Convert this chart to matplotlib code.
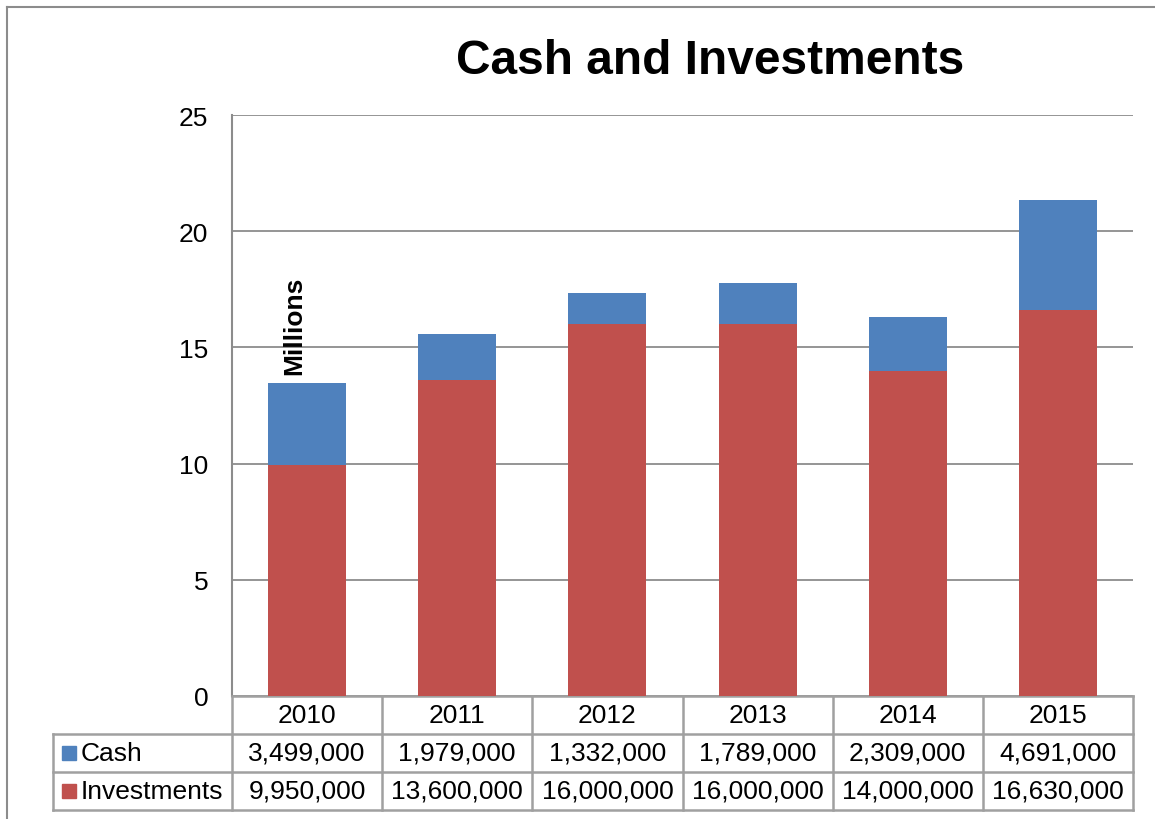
import numpy as np
import matplotlib
matplotlib.use("Agg")
from matplotlib import pyplot as plt
from matplotlib import transforms
from matplotlib.patches import Rectangle
from matplotlib.lines import Line2D

# data
years = ['2010', '2011', '2012', '2013', '2014', '2015']
cash = [3499000, 1979000, 1332000, 1789000, 2309000, 4691000]
investments = [9950000, 13600000, 16000000, 16000000, 14000000, 16630000]
series_names = ['Cash', 'Investments']
yticks = [0, 5, 10, 15, 20, 25]

blue = '#4F81BD'
red = '#C0504D'
grid_c = '#8c8c8c'
tab_c = '#a0a0a0'
fs = 19

plt.rcParams['font.family'] = ['Liberation Sans', 'DejaVu Sans']

fig = plt.figure(figsize=(11.55, 8.2), dpi=100)
ax = fig.add_axes([232/1155, 123/820, 901/1155, 581/820])

x = np.arange(len(years))
cash_m = np.array(cash) / 1e6
inv_m = np.array(investments) / 1e6
ax.bar(x, inv_m, width=0.52, color=red, zorder=3)
ax.bar(x, cash_m, bottom=inv_m, width=0.52, color=blue, zorder=3)

ax.set_xlim(-0.5, len(years) - 0.5)
ax.set_ylim(0, 25)
ax.set_yticks(yticks)
ax.set_yticklabels([str(t) for t in yticks], fontsize=fs)
ax.tick_params(axis='y', length=0, pad=17)
ax.set_xticks([])
ax.grid(axis='y', color=grid_c, linewidth=1.3, zorder=0)
for s in ['top', 'right']:
    ax.spines[s].set_visible(False)
ax.spines['left'].set_color(grid_c)
ax.spines['left'].set_linewidth(1.5)
ax.spines['bottom'].set_color(tab_c)
ax.spines['bottom'].set_linewidth(1.8)

# display units label
ax.text(-0.087, 13.85, 'Millions', rotation=90, fontsize=fs, fontweight='bold',
        ha='center', va='bottom')

# data table under the plot
tr = transforms.blended_transform_factory(ax.transData, ax.transAxes)
rh = 38 / 581
left = -0.5 - 179 / 150.17
right = len(years) - 0.5
lw = 1.8
def line(xs, ys):
    ax.add_line(Line2D(xs, ys, transform=tr, color=tab_c, lw=lw, clip_on=False))

for r in range(1, 4):
    line([left, right], [-r * rh, -r * rh])
line([left, left], [-rh, -3 * rh])
for i in range(len(years) + 1):
    line([i - 0.5, i - 0.5], [0, -3 * rh])

for i, yr in enumerate(years):
    ax.text(i, -0.5 * rh, yr, transform=tr, ha='center', va='center', fontsize=fs)
    ax.text(i, -1.5 * rh, f'{cash[i]:,}', transform=tr, ha='center', va='center', fontsize=fs)
    ax.text(i, -2.5 * rh, f'{investments[i]:,}', transform=tr, ha='center', va='center', fontsize=fs)

for k, (name, col) in enumerate(zip(series_names, [blue, red])):
    yc = -(1.5 + k) * rh
    ax.add_patch(Rectangle((-0.5 - 170 / 150.17, yc - 7 / 581), 14 / 150.17, 14 / 581,
                           transform=tr, color=col, clip_on=False))
    ax.text(-0.5 - 151 / 150.17, yc, name, transform=tr, ha='left', va='center', fontsize=fs)

# title
fig.text(710 / 1155, 1 - 61 / 820, 'Cash and Investments', ha='center', va='center',
         fontsize=34.5, fontweight='bold')

# chart border
fig.add_artist(Line2D([7 / 1155, 7 / 1155], [0, 1 - 8 / 820], transform=fig.transFigure,
                      color='#8c8c8c', lw=1.5))
fig.add_artist(Line2D([7 / 1155, 1], [1 - 8 / 820, 1 - 8 / 820], transform=fig.transFigure,
                      color='#8c8c8c', lw=1.5))

fig.savefig('out.png', dpi=100)
